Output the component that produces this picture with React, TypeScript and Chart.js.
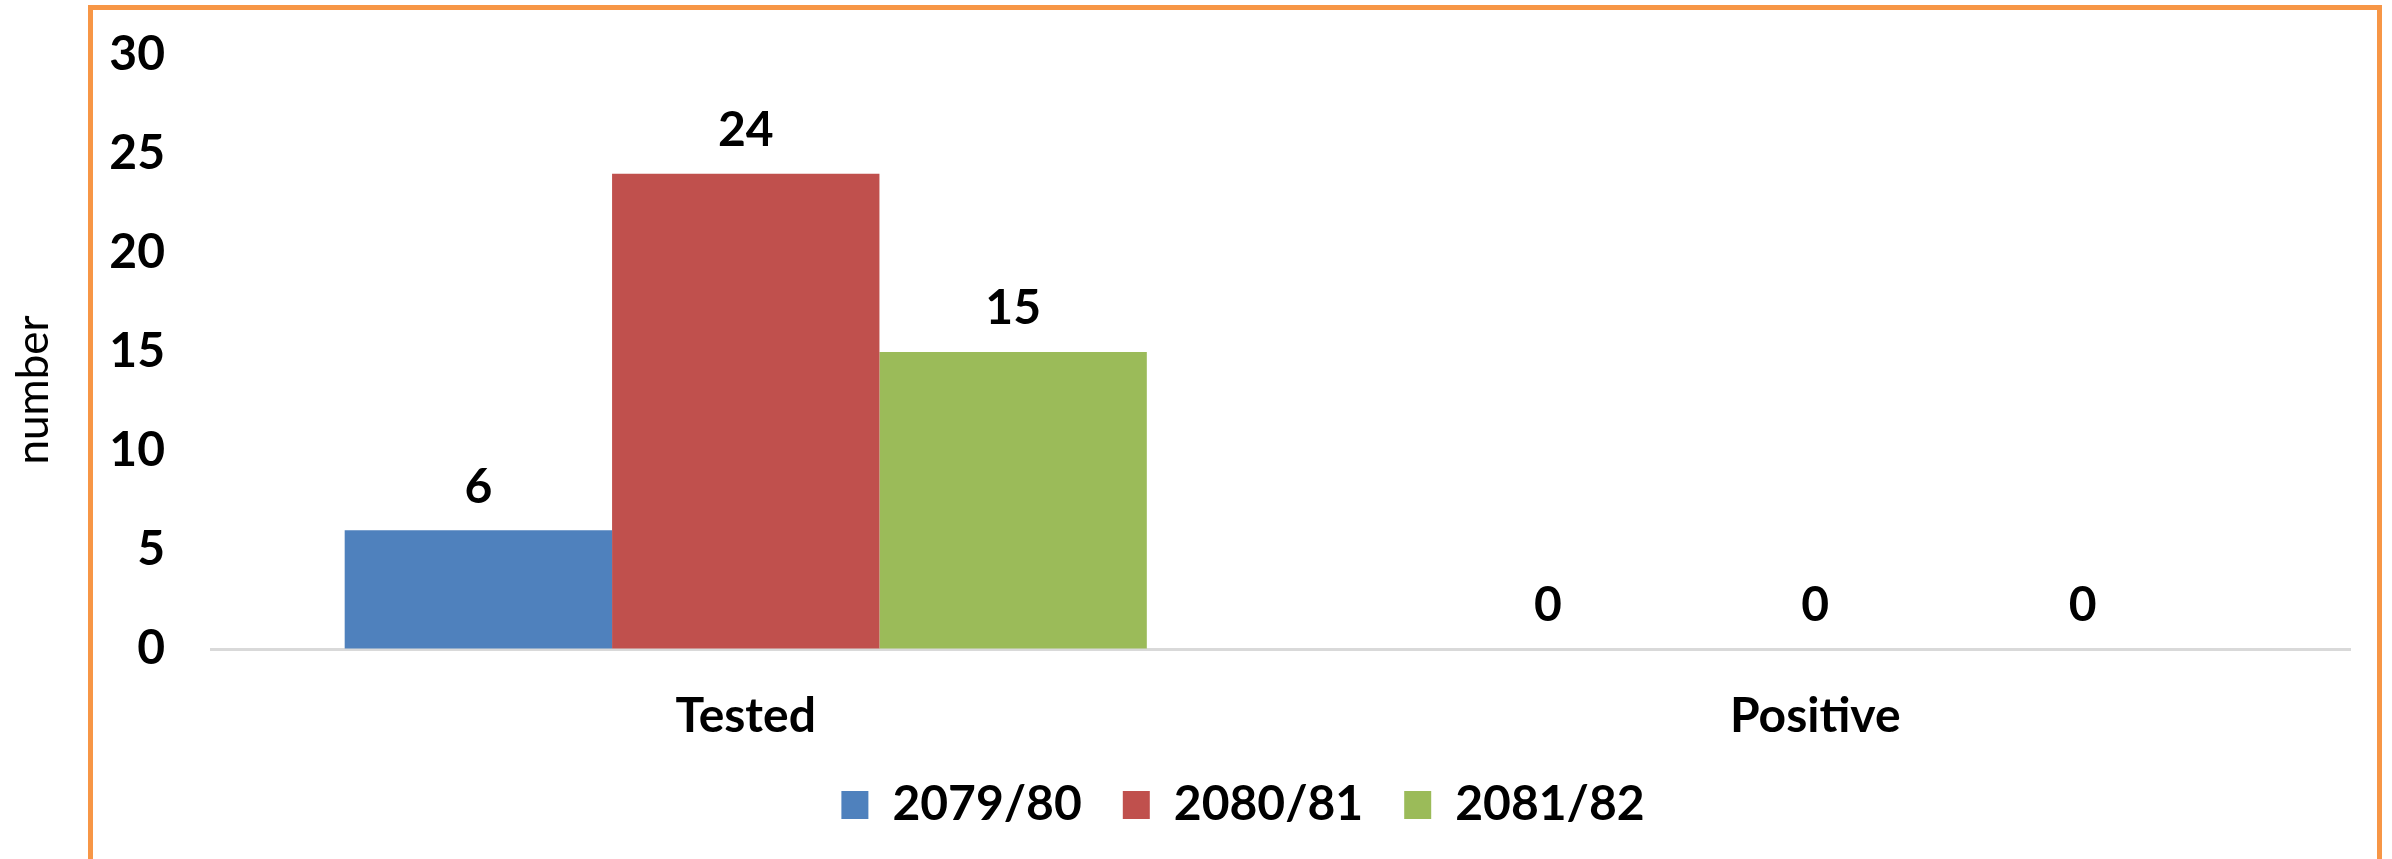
import React, { useEffect, useRef } from 'react';
import { Chart, registerables } from 'chart.js';

Chart.register(...registerables);

const categories = ['Tested', 'Positive'];
const seriesLabels = ['2079/80', '2080/81', '2081/82'];
const values2079 = [6, 0];
const values2080 = [24, 0];
const values2081 = [15, 0];
const seriesColors = ['#4F81BD', '#C0504D', '#9BBB59'];
const yTicks = [0, 5, 10, 15, 20, 25, 30];
const yTitle = 'number';

const FONT = 'Lato, "Open Sans", "Noto Sans", sans-serif';
const W = 2392;
const H = 859;
const LEGEND_CENTER_X = 1243;

const valueLabels = {
  id: 'valueLabels',
  afterDatasetsDraw(chart: any) {
    const ctx = chart.ctx;
    ctx.save();
    ctx.font = `bold 48px ${FONT}`;
    ctx.fillStyle = '#000000';
    ctx.textAlign = 'center';
    ctx.textBaseline = 'middle';
    chart.data.datasets.forEach((ds: any, i: number) => {
      const meta = chart.getDatasetMeta(i);
      meta.data.forEach((bar: any, j: number) => {
        ctx.fillText(String(ds.data[j]), bar.x, bar.y - 43);
      });
    });
    ctx.restore();
  },
};

const yTitlePlugin = {
  id: 'yTitlePlugin',
  afterDraw(chart: any) {
    const ctx = chart.ctx;
    const area = chart.chartArea;
    ctx.save();
    ctx.translate(34, (area.top + area.bottom) / 2 + 38);
    ctx.rotate(-Math.PI / 2);
    ctx.font = `44px ${FONT}`;
    ctx.fillStyle = '#000000';
    ctx.textAlign = 'center';
    ctx.textBaseline = 'middle';
    ctx.fillText(yTitle, 0, 0);
    ctx.restore();
  },
};

const legendCenter = {
  id: 'legendCenter',
  beforeDraw(chart: any) {
    const lg = chart.legend;
    if (!lg) return;
    const w = lg.right - lg.left;
    lg.left = LEGEND_CENTER_X - w / 2;
    lg.right = lg.left + w;
  },
};

export default function App() {
  const canvasRef = useRef<HTMLCanvasElement | null>(null);

  useEffect(() => {
    if (!canvasRef.current) return;
    const seriesValues = [values2079, values2080, values2081];
    const chart = new Chart(canvasRef.current, {
      type: 'bar',
      data: {
        labels: categories,
        datasets: seriesLabels.map((label, i) => ({
          label,
          data: seriesValues[i],
          backgroundColor: seriesColors[i],
          borderColor: seriesColors[i],
          borderWidth: 0,
          categoryPercentage: 0.75,
          barPercentage: 1.0,
        })),
      },
      options: {
        responsive: false,
        animation: false,
        devicePixelRatio: 1,
        layout: { padding: { left: 8, right: 42, top: 55, bottom: 20 } },
        plugins: {
          tooltip: { enabled: false },
          title: { display: false },
          legend: {
            display: true,
            position: 'bottom',
            labels: {
              boxWidth: 27,
              boxHeight: 28,
              padding: 41,
              color: '#000000',
              font: { family: FONT, size: 48, weight: 'bold' },
            },
          },
        },
        scales: {
          x: {
            grid: { display: false, drawTicks: false },
            border: { display: true, color: '#D9D9D9', width: 3 },
            ticks: {
              color: '#000000',
              padding: 39,
              font: { family: FONT, size: 48, weight: 'bold' },
            },
            afterFit(scale: any) {
              scale.height = 91;
            },
          },
          y: {
            min: 0,
            max: 30,
            grid: {
              display: true,
              drawOnChartArea: false,
              drawTicks: true,
              tickLength: 46,
              color: 'rgba(0,0,0,0)',
            },
            border: { display: false },
            ticks: {
              stepSize: 5,
              color: '#000000',
              padding: 0,
              font: { family: FONT, size: 48, weight: 'bold' },
            },
            afterBuildTicks(scale: any) {
              scale.ticks = yTicks.map((v) => ({ value: v }));
            },
            afterFit(scale: any) {
              scale.width = 203;
            },
          },
        },
      } as any,
      plugins: [valueLabels, yTitlePlugin, legendCenter],
    });
    return () => chart.destroy();
  }, []);

  return (
    <div
      style={{
        position: 'absolute',
        left: 0,
        top: 0,
        width: W,
        height: H,
        overflow: 'hidden',
        background: '#FFFFFF',
      }}
    >
      <canvas ref={canvasRef} width={W} height={H} style={{ display: 'block', width: W, height: H }} />
      <div
        style={{
          position: 'absolute',
          left: 88,
          top: 5,
          width: 2294,
          height: 920,
          border: '5px solid #F79646',
          boxSizing: 'border-box',
          pointerEvents: 'none',
        }}
      />
    </div>
  );
}
